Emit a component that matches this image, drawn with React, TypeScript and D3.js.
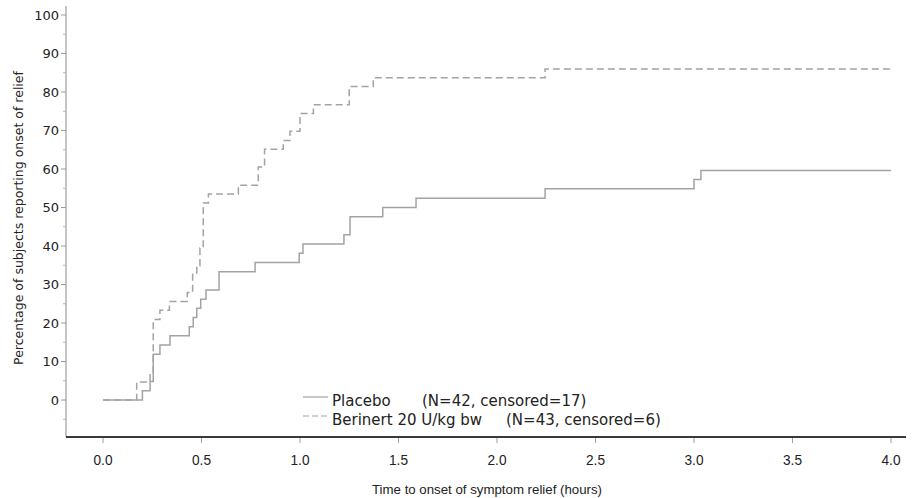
import React from "react";
import * as d3 from "d3";

// Kaplan-Meier style cumulative curves (time in hours, percentage with onset of relief)
const placeboTimes = [0, 0.2, 0.239, 0.255, 0.289, 0.34, 0.438, 0.458, 0.476, 0.496, 0.523, 0.589, 0.772, 0.996, 1.015, 1.223, 1.254, 1.42, 1.589, 2.244, 3.0, 3.035, 4.0];
const placeboPct = [0, 2.4, 4.8, 11.9, 14.3, 16.7, 19.0, 21.4, 23.8, 26.2, 28.6, 33.3, 35.7, 38.1, 40.5, 42.9, 47.6, 50.0, 52.4, 54.9, 57.3, 59.6, 59.6];

const berinertTimes = [0, 0.171, 0.239, 0.255, 0.289, 0.337, 0.428, 0.455, 0.476, 0.492, 0.509, 0.535, 0.687, 0.788, 0.82, 0.915, 0.949, 1.0, 1.068, 1.25, 1.372, 2.244, 4.0];
const berinertPct = [0, 4.7, 7.0, 20.9, 23.3, 25.6, 27.9, 32.6, 34.9, 39.5, 51.2, 53.5, 55.8, 60.5, 65.1, 67.4, 69.8, 74.4, 76.7, 81.4, 83.7, 86.0, 86.0];

const xTicks = [0, 0.5, 1, 1.5, 2, 2.5, 3, 3.5, 4];
const yTicks = [0, 10, 20, 30, 40, 50, 60, 70, 80, 90, 100];
const yMinorTicks = [-5, 5, 15, 25, 35, 45, 55, 65, 75, 85, 95];

const legendLabels = ["Placebo", "Berinert 20 U/kg bw"];
const legendStats = ["(N=42, censored=17)", "(N=43, censored=6)"];

export default function App() {
  const W = 917, H = 498;
  const x = d3.scaleLinear().domain([0, 4]).range([103, 891]);
  const y = d3.scaleLinear().domain([0, 100]).range([400, 15]);
  const axisX = 66;
  const axisY = 437;
  const axisRight = 906;
  const axisTop = 6;

  const line = d3
    .line<[number, number]>()
    .x((d) => x(d[0]))
    .y((d) => y(d[1]))
    .curve(d3.curveStepAfter);

  const placebo = placeboTimes.map((t, i) => [t, placeboPct[i]] as [number, number]);
  const berinert = berinertTimes.map((t, i) => [t, berinertPct[i]] as [number, number]);

  const lineColor = "#a3a3a3";
  const sansFont = "'DejaVu Sans', Verdana, sans-serif";
  const narrowFont = "'Liberation Sans', Arial, sans-serif";
  const statsX = [422, 506];

  return (
    <svg
      width={W}
      height={H}
      style={{ position: "absolute", left: 0, top: 0, background: "#fff" }}
      xmlns="http://www.w3.org/2000/svg"
    >
      <rect x={0} y={0} width={W} height={H} fill="#fff" />
      {/* y axis */}
      <line x1={axisX} x2={axisX} y1={axisTop} y2={axisY} stroke="#b0b0b0" strokeWidth={1.5} />
      {yTicks.map((t) => (
        <g key={"yt" + t}>
          <line x1={axisX - 5} x2={axisX} y1={y(t)} y2={y(t)} stroke="#9a9a9a" strokeWidth={1} />
          <text
            x={axisX - 7}
            y={y(t)}
            dy="0.35em"
            textAnchor="end"
            fontFamily={sansFont}
            fontSize={13}
            fill="#222"
          >
            {t}
          </text>
        </g>
      ))}
      {yMinorTicks.map((t) => (
        <line key={"ym" + t} x1={axisX - 3} x2={axisX} y1={y(t)} y2={y(t)} stroke="#b5b5b5" strokeWidth={1} />
      ))}
      <text
        transform={`translate(23,218) rotate(-90)`}
        textAnchor="middle"
        fontFamily={sansFont}
        fontSize={12.5}
        fill="#222"
      >
        Percentage of subjects reporting onset of relief
      </text>

      {/* x axis */}
      <line x1={axisX} x2={axisRight} y1={axisY} y2={axisY} stroke="#3a3a3a" strokeWidth={2} />
      {xTicks.map((t) => (
        <g key={"xt" + t}>
          <line x1={x(t)} x2={x(t)} y1={axisY + 1} y2={axisY + 6} stroke="#a0a0a0" strokeWidth={1} />
          <text
            x={x(t)}
            y={axisY + 28}
            textAnchor="middle"
            fontFamily={narrowFont}
            fontSize={14}
            textLength={19}
            lengthAdjust="spacingAndGlyphs"
            fill="#222"
          >
            {t.toFixed(1)}
          </text>
        </g>
      ))}
      <text
        x={487}
        y={494}
        textAnchor="middle"
        fontFamily={narrowFont}
        fontSize={13.5}
        textLength={230}
        lengthAdjust="spacingAndGlyphs"
        fill="#222"
      >
        Time to onset of symptom relief (hours)
      </text>

      {/* curves */}
      <path d={line(placebo) || ""} fill="none" stroke={lineColor} strokeWidth={1.5} />
      <path d={line(berinert) || ""} fill="none" stroke={lineColor} strokeWidth={1.5} strokeDasharray="7,4" />

      {/* legend */}
      {legendLabels.map((lab, i) => {
        const ly = 400 + i * 19;
        return (
          <g key={"lg" + i}>
            <line
              x1={303}
              x2={328}
              y1={ly - 3}
              y2={ly - 3}
              stroke={lineColor}
              strokeWidth={1.2}
              strokeDasharray={i === 1 ? "6,3" : undefined}
            />
            <text x={332} y={ly + 6} fontFamily={sansFont} fontSize={15} fill="#222">
              {lab}
            </text>
            <text x={statsX[i]} y={ly + 6} fontFamily={sansFont} fontSize={15} fill="#222">
              {legendStats[i]}
            </text>
          </g>
        );
      })}
    </svg>
  );
}
